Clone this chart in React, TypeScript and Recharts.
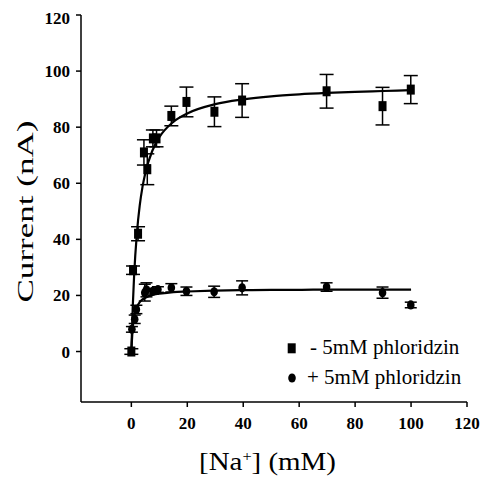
import React from "react";
import {
  ComposedChart,
  XAxis,
  YAxis,
  Scatter,
  Line,
  ErrorBar,
} from "recharts";

// [Na+] (mM) values and currents (nA) for "- 5mM phloridzin" (squares)
const SQ_NA = [0, 0.6, 2.4, 4.5, 5.7, 7.7, 9.0, 14.3, 19.7, 29.7, 39.6, 69.8, 89.8, 99.9];
const SQ_CURRENT = [0, 29, 42, 71, 65, 76, 76, 84, 89, 85.5, 89.5, 92.8, 87.5, 93.4];
const SQ_ERR = [1, 1.5, 2.5, 4.5, 5.5, 3, 3, 3.5, 5.3, 5.3, 6, 6, 6.7, 5];

// "+ 5mM phloridzin" (circles)
const CI_NA = [0.2, 1.2, 1.8, 4.8, 5.4, 7.7, 9.5, 14.3, 19.7, 29.6, 39.6, 69.8, 89.8, 99.9];
const CI_CURRENT = [7.9, 11.5, 15, 21, 22, 21.5, 22.1, 22.7, 21.5, 21.3, 22.7, 23, 21, 16.6];
const CI_ERR = [1, 1.5, 1.5, 3, 2.5, 1, 1, 1.5, 1.5, 2, 2.5, 1.5, 2, 1];

// fitted curves
const FIT_NA = [0, 0.5, 1, 2, 3, 4, 5, 7.5, 10, 15, 20, 30, 40, 50, 60, 70, 80, 90, 100];
const FIT_MINUS = [0, 15.9, 27.3, 42.4, 52.1, 58.8, 63.7, 71.6, 76.4, 81.9, 84.9, 88.2, 89.9, 91.0, 91.7, 92.2, 92.6, 92.9, 93.2];
const FIT_PLUS = [0, 8.6, 12.4, 15.9, 17.6, 18.6, 19.2, 20.2, 20.6, 21.2, 21.4, 21.7, 21.9, 22.0, 22.0, 22.1, 22.1, 22.1, 22.1];

const TICKS = [0, 20, 40, 60, 80, 100, 120];
const LEGEND = ["- 5mM phloridzin", "+ 5mM phloridzin"];

const sqData = SQ_NA.map((x, i) => ({ x, y: SQ_CURRENT[i], err: SQ_ERR[i] }));
const ciData = CI_NA.map((x, i) => ({ x, y: CI_CURRENT[i], err: CI_ERR[i] }));
const fitMinus = FIT_NA.map((x, i) => ({ x, y: FIT_MINUS[i] }));
const fitPlus = FIT_NA.map((x, i) => ({ x, y: FIT_PLUS[i] }));

const FONT = "'Liberation Serif', 'Times New Roman', serif";

const SquareShape = (props: any) => {
  const { cx, cy } = props;
  return <rect x={cx - 4} y={cy - 5} width={8} height={10} fill="#000" />;
};
const CircleShape = (props: any) => {
  const { cx, cy } = props;
  return <ellipse cx={cx} cy={cy} rx={3.8} ry={4.6} fill="#000" />;
};

const tickStyle = { fontFamily: FONT, fontSize: 17, fontWeight: 700, fill: "#000" };

const XTitle = () => (
  <text
    x={259.5}
    y={462}
    textAnchor="middle"
    fontFamily={FONT}
    fontSize={25}
    fill="#000"
    textLength={137}
    lengthAdjust="spacingAndGlyphs"
  >
    [Na<tspan dy={-9} fontSize={14}>+</tspan>
    <tspan dy={9}>] (mM)</tspan>
  </text>
);

const YTitle = () => (
  <text
    x={0}
    y={0}
    transform="translate(25,203.5) rotate(-90)"
    textAnchor="middle"
    fontFamily={FONT}
    fontSize={24}
    fill="#000"
    textLength={182}
    lengthAdjust="spacingAndGlyphs"
  >
    Current (nA)
  </text>
);

export default function App() {
  return (
    <div style={{ position: "relative", width: 483, height: 474 }}>
      <ComposedChart
        width={483}
        height={474}
        margin={{ top: 7, right: 24, left: 0, bottom: 0 }}
      >
        <XAxis
          xAxisId="main"
          dataKey="x"
          type="number"
          domain={[-18, 120]}
          ticks={TICKS}
          height={80}
          tickSize={5}
          tickMargin={10}
          tick={tickStyle}
          axisLine={{ stroke: "#000", strokeWidth: 1.5 }}
          tickLine={{ stroke: "#000", strokeWidth: 1.5 }}
          allowDataOverflow
          label={<XTitle />}
        />
        <XAxis
          xAxisId="top"
          orientation="top"
          type="number"
          domain={[-18, 120]}
          height={0}
          tick={false}
          tickLine={false}
          axisLine={{ stroke: "#000", strokeWidth: 1.5 }}
        />
        <YAxis
          yAxisId="main"
          type="number"
          domain={[-18, 120]}
          ticks={TICKS}
          width={73}
          tickSize={5}
          tickMargin={6}
          tick={tickStyle}
          axisLine={{ stroke: "#000", strokeWidth: 1.5 }}
          tickLine={{ stroke: "#000", strokeWidth: 1.5 }}
          allowDataOverflow
          label={<YTitle />}
        />
        <YAxis
          yAxisId="right"
          orientation="right"
          type="number"
          domain={[-18, 120]}
          width={0}
          tick={false}
          tickLine={false}
          axisLine={{ stroke: "#000", strokeWidth: 1.5 }}
        />
        <Line
          xAxisId="main"
          yAxisId="main"
          data={fitMinus}
          dataKey="y"
          type="monotone"
          stroke="#000"
          strokeWidth={2.2}
          dot={false}
          isAnimationActive={false}
        />
        <Line
          xAxisId="main"
          yAxisId="main"
          data={fitPlus}
          dataKey="y"
          type="monotone"
          stroke="#000"
          strokeWidth={2.2}
          dot={false}
          isAnimationActive={false}
        />
        <Scatter
          xAxisId="main"
          yAxisId="main"
          name={LEGEND[0]}
          data={sqData}
          dataKey="y"
          shape={<SquareShape />}
          isAnimationActive={false}
        >
          <ErrorBar dataKey="err" direction="y" width={7} stroke="#000" strokeWidth={1.5} />
        </Scatter>
        <Scatter
          xAxisId="main"
          yAxisId="main"
          name={LEGEND[1]}
          data={ciData}
          dataKey="y"
          shape={<CircleShape />}
          isAnimationActive={false}
        >
          <ErrorBar dataKey="err" direction="y" width={6} stroke="#000" strokeWidth={1.5} />
        </Scatter>
      </ComposedChart>
      <svg
        width={483}
        height={474}
        style={{ position: "absolute", left: 0, top: 0, pointerEvents: "none" }}
      >
        <rect x={279.7} y={335.3} width={8} height={10} fill="#000" />
        <text x={302} y={346} fontFamily={FONT} fontSize={21} fill="#000">
          {LEGEND[0]}
        </text>
        <ellipse cx={284} cy={370} rx={3.8} ry={4.6} fill="#000" />
        <text x={299} y={376} fontFamily={FONT} fontSize={21} fill="#000">
          {LEGEND[1]}
        </text>
      </svg>
    </div>
  );
}
